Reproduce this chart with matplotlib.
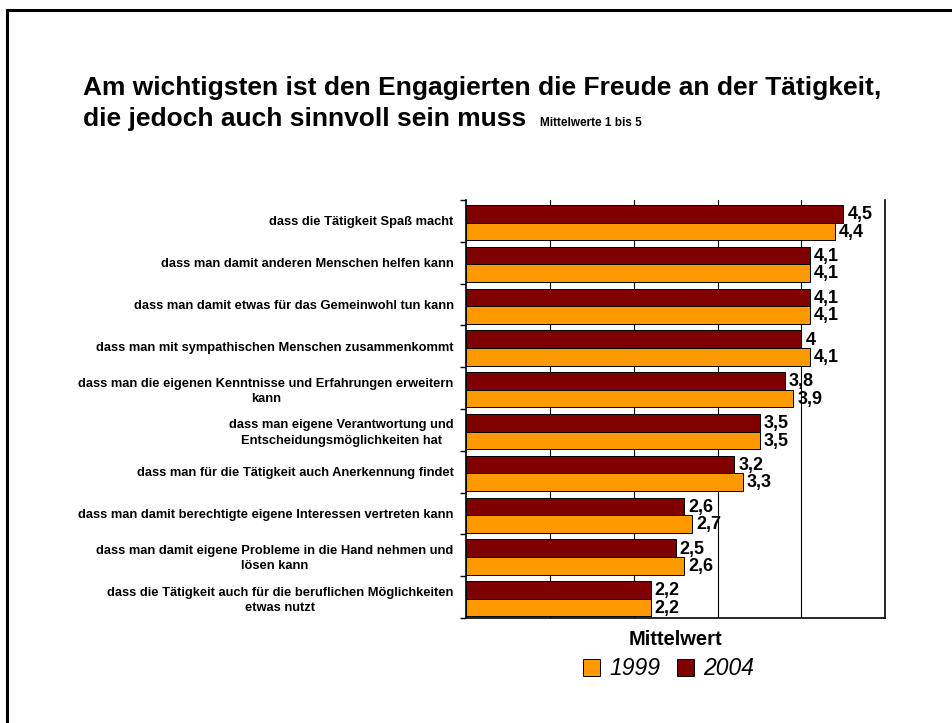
import numpy as np
import matplotlib
matplotlib.use("Agg")
import matplotlib.pyplot as plt
from matplotlib.patches import Patch
from matplotlib.lines import Line2D

plt.rcParams['font.family'] = ['Liberation Sans', 'DejaVu Sans']

# Daten (Mittelwerte 1 bis 5)
kategorien = [
    "dass die Tätigkeit Spaß macht",
    "dass man damit anderen Menschen helfen kann",
    "dass man damit etwas für das Gemeinwohl tun kann",
    "dass man mit sympathischen Menschen zusammenkommt",
    "dass man die eigenen Kenntnisse und Erfahrungen erweitern\nkann",
    "dass man eigene Verantwortung und\nEntscheidungsmöglichkeiten hat",
    "dass man für die Tätigkeit auch Anerkennung findet",
    "dass man damit berechtigte eigene Interessen vertreten kann",
    "dass man damit eigene Probleme in die Hand nehmen und\nlösen kann",
    "dass die Tätigkeit auch für die beruflichen Möglichkeiten\netwas nutzt",
]
werte_2004 = [4.5, 4.1, 4.1, 4.0, 3.8, 3.5, 3.2, 2.6, 2.5, 2.2]
werte_1999 = [4.4, 4.1, 4.1, 4.1, 3.9, 3.5, 3.3, 2.7, 2.6, 2.2]

farbe_1999 = "#FF9900"
farbe_2004 = "#800000"

fig = plt.figure(figsize=(9.53, 7.23), dpi=100)
ax = fig.add_axes([0.489, 0.1452, 0.440, 0.5782])

y = np.arange(len(kategorien))
h = 0.42
d = 0.04  # Balken leicht nach unten versetzt
ax.barh(y - h / 2 + d, werte_2004, height=h, color=farbe_2004, edgecolor="black", linewidth=0.7, zorder=3)
ax.barh(y + h / 2 + d, werte_1999, height=h, color=farbe_1999, edgecolor="black", linewidth=0.7, zorder=3)

def fmt(v):
    s = ("%.1f" % v).replace(".", ",")
    return s[:-2] if s.endswith(",0") else s

for i in range(len(kategorien)):
    ax.text(werte_2004[i] + 0.05, y[i] - h / 2 + d + 0.02, fmt(werte_2004[i]), va="center", ha="left",
            fontsize=13, fontweight="bold", zorder=4)
    ax.text(werte_1999[i] + 0.05, y[i] + h / 2 + d + 0.02, fmt(werte_1999[i]), va="center", ha="left",
            fontsize=13, fontweight="bold", zorder=4)

ax.set_xlim(0, 5)
ax.set_ylim(len(kategorien) - 0.5, -0.5)
ax.set_xticks([1, 2, 3, 4])
ax.set_xticklabels([])
ax.tick_params(axis="x", length=0)
ax.xaxis.grid(True, color="black", linewidth=0.8, zorder=0)

ax.set_yticks(y)
ax.set_yticklabels(kategorien, fontsize=9.3, fontweight="bold", multialignment="center", linespacing=1.4)
ax.tick_params(axis="y", which="major", length=0, pad=9)
ax.set_yticks(np.arange(-0.5, len(kategorien) + 0.5, 1), minor=True)
ax.tick_params(axis="y", which="minor", length=4, width=1, direction="out")

ax.spines["top"].set_visible(False)
for s in ["left", "right", "bottom"]:
    ax.spines[s].set_linewidth(1.2)
    ax.spines[s].set_color("black")

ax.set_xlabel("Mittelwert", fontsize=14.5, fontweight="bold", labelpad=5)

handles = [Patch(facecolor=farbe_1999, edgecolor="black", linewidth=0.7),
           Patch(facecolor=farbe_2004, edgecolor="black", linewidth=0.7)]
fig.legend(handles, ["1999", "2004"], loc="center", bbox_to_anchor=(0.7015, 0.0747), ncol=2,
           frameon=False, prop={"style": "italic", "size": 16.5}, handlelength=0.75, handleheight=0.75,
           handletextpad=0.4, columnspacing=0.7)

# Titel
fig.text(0.087, 0.868, "Am wichtigsten ist den Engagierten die Freude an der Tätigkeit,",
         fontsize=19, fontweight="bold", va="baseline")
t2 = fig.text(0.087, 0.826, "die jedoch auch sinnvoll sein muss", fontsize=19, fontweight="bold", va="baseline")
fig.canvas.draw()
bb = t2.get_window_extent().transformed(fig.transFigure.inverted())
fig.text(bb.x1 + 0.014, 0.826, "Mittelwerte 1 bis 5", fontsize=8.5, fontweight="bold", va="baseline")

# Rahmen der Folie
fig.add_artist(Line2D([0.0075, 0.0075], [0.0, 0.986], color="black", linewidth=2.2, transform=fig.transFigure))
fig.add_artist(Line2D([0.0075, 1.0], [0.986, 0.986], color="black", linewidth=2.2, transform=fig.transFigure))

fig.savefig("out.png", dpi=100)
